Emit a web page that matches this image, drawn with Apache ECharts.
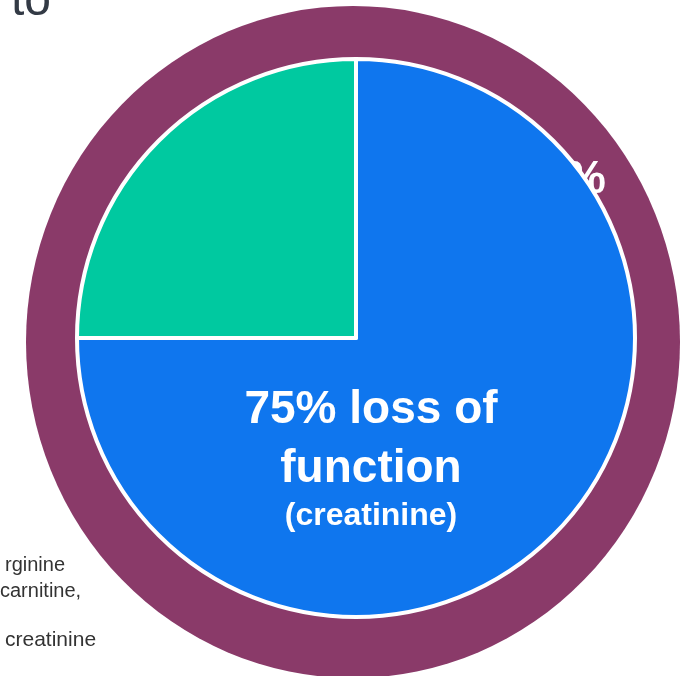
<!DOCTYPE html>
<html>
<head>
<meta charset="utf-8">
<script src="https://cdn.jsdelivr.net/npm/echarts@6/dist/echarts.min.js"></script>
<style>
html,body{margin:0;padding:0;background:#fff;}
#chart{width:693px;height:676px;}
</style>
</head>
<body>
<div id="chart"></div>
<script>
// Data
const sliceNames = ['75% loss of function', 'remaining function'];
const sliceValues = [75, 25];
const sliceColors = ['#0F76EE', '#00C9A0'];
const labelLines = ['75% loss of', 'function', '(creatinine)'];
const ringLabel = '100%';
const titleText = 'to';
const sideTextLines = ['rginine', 'carnitine,', 'creatinine'];

const chart = echarts.init(document.getElementById('chart'));
const center = [356, 338];
const FONT = '"Liberation Sans", Arial, sans-serif';

const option = {
  animation: false,
  graphic: [
    // outer elliptical ring backdrop
    { type: 'circle', x: 353, y: 342, scaleY: 336 / 327, shape: { cx: 0, cy: 0, r: 327 }, style: { fill: '#8A3A69' }, silent: true },
    { type: 'text', x: 606, y: 180, z2: 10, style: { text: ringLabel, font: 'bold 46px ' + FONT, fill: '#fff', align: 'right', verticalAlign: 'middle' }, silent: true },
    { type: 'text', left: 11, top: -22, style: { text: titleText, font: '48px ' + FONT, fill: '#333a45' } },
    { type: 'text', x: 5, y: 565, style: { text: sideTextLines[0], font: '20px ' + FONT, fill: '#333', verticalAlign: 'middle' } },
    { type: 'text', x: 0, y: 591, style: { text: sideTextLines[1], font: '20px ' + FONT, fill: '#333', verticalAlign: 'middle' } },
    { type: 'text', x: 5, y: 640, style: { text: sideTextLines[2], font: '21px ' + FONT, fill: '#333', verticalAlign: 'middle' } }
  ],
  series: [
    {
      type: 'pie',
      z: 3,
      center: center,
      radius: [0, 279],
      startAngle: 90,
      clockwise: true,
      silent: true,
      itemStyle: { borderColor: '#fff', borderWidth: 4 },
      labelLine: { show: false },
      data: sliceNames.map((n, i) => ({
        name: n,
        value: sliceValues[i],
        itemStyle: { color: sliceColors[i] },
        label: i === 0 ? {
          show: true,
          position: 'center',
          offset: [15, 119],
          formatter: () => '{a|' + labelLines[0] + '}\n{a|' + labelLines[1] + '}\n{b|' + labelLines[2] + '}',
          rich: {
            a: { color: '#fff', fontFamily: FONT, fontWeight: 'bold', fontSize: 46, lineHeight: 59, align: 'center' },
            b: { color: '#fff', fontFamily: FONT, fontWeight: 'bold', fontSize: 32, lineHeight: 35, align: 'center' }
          }
        } : { show: false }
      }))
    }
  ]
};
chart.setOption(option);
</script>
</body>
</html>
